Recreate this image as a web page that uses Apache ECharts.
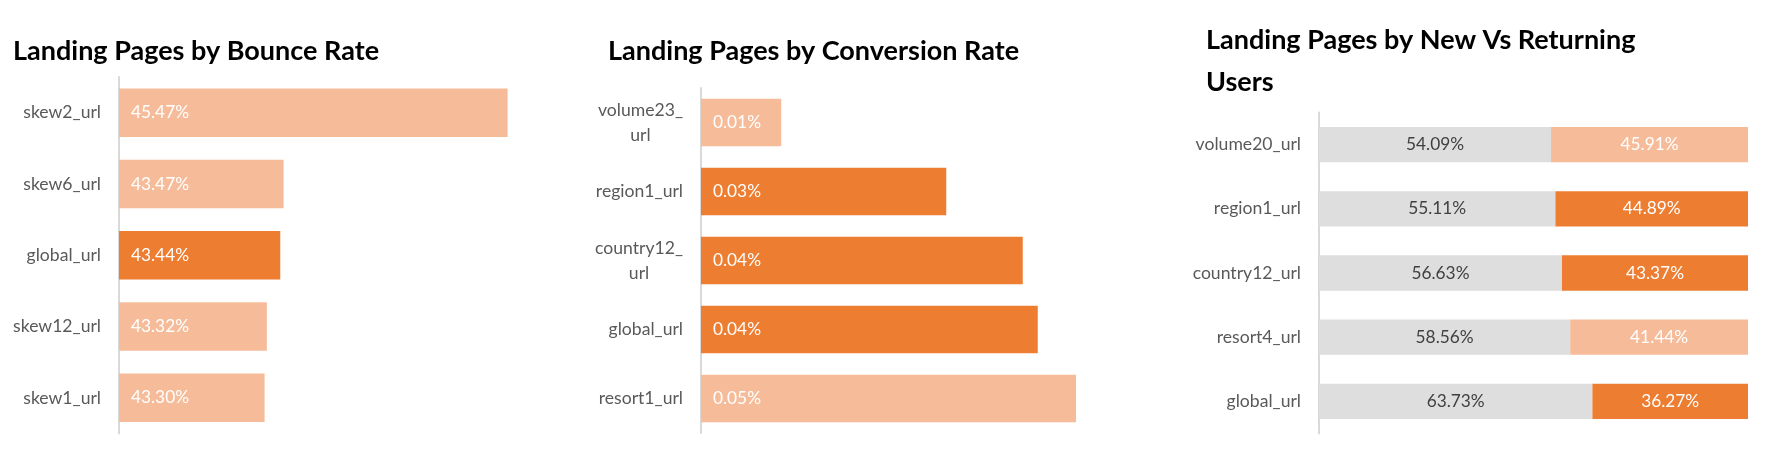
<!DOCTYPE html>
<html>
<head>
<meta charset="utf-8">
<script src="https://cdn.jsdelivr.net/npm/echarts@6/dist/echarts.min.js"></script>
<style>
html,body{margin:0;padding:0;background:#fff;}
#chart{width:1771px;height:457px;}
</style>
</head>
<body>
<div id="chart"></div>
<script>
// ---- Data ----
const bounceTitle = 'Landing Pages by Bounce Rate';
const bounceCategories = ['skew2_url', 'skew6_url', 'global_url', 'skew12_url', 'skew1_url'];
const bounceRates = [45.47, 43.47, 43.44, 43.32, 43.30];

const conversionTitle = 'Landing Pages by Conversion Rate';
const conversionCategories = ['volume23_url', 'region1_url', 'country12_url', 'global_url', 'resort1_url'];
const conversionRates = [0.0107, 0.0327, 0.0429, 0.0449, 0.0500];

const newRetTitle = 'Landing Pages by New Vs Returning\nUsers';
const newRetCategories = ['volume20_url', 'region1_url', 'country12_url', 'resort4_url', 'global_url'];
const newUsers = [54.09, 55.11, 56.63, 58.56, 63.73];
const returningUsers = [45.91, 44.89, 43.37, 41.44, 36.27];

const focusPages = ['global_url', 'region1_url', 'country12_url'];

// ---- Styles ----
const DARK = '#ED7D31';
const LIGHT = '#F6BC9A';
const GREY = '#DEDEDE';
const FONT = 'Lato';
const pickColor = name => focusPages.indexOf(name) >= 0 ? DARK : LIGHT;

const titleStyle = {fontFamily: FONT, fontWeight: 'bold', fontSize: 27, color: '#000', lineHeight: 33};
const titleStyle3 = Object.assign({}, titleStyle, {lineHeight: 42});

function catAxis(idx, cats, wrap) {
  return {
    type: 'category', gridIndex: idx, data: cats, inverse: true,
    axisLine: {show: true, lineStyle: {color: '#D9D9D9', width: 2}},
    axisTick: {show: false},
    axisLabel: {
      margin: 18, color: '#595959', fontFamily: FONT, fontSize: 17.6,
      formatter: wrap ? function (v) {
        if (v.length > 11) {
          const i = v.lastIndexOf('_') + 1;
          return '{w|' + v.slice(0, i) + '}\n{w|' + v.slice(i) + '}';
        }
        return '{w|' + v + '}';
      } : undefined,
      rich: wrap ? {w: {align: 'center', fontFamily: FONT, fontSize: 17.6, color: '#595959', lineHeight: 25}} : undefined
    }
  };
}
function valAxis(idx, min, max) {
  return {type: 'value', gridIndex: idx, min: min, max: max, show: false,
    splitLine: {show: false}};
}

const valueLabel = (pos, color, dist) => ({
  show: true, position: pos, distance: dist, color: color, fontFamily: FONT, fontSize: 17.3,
  formatter: p => p.value.toFixed(2) + '%'
});

const option = {
  animation: false,
  backgroundColor: '#fff',
  title: [
    {text: bounceTitle, left: 13, top: 35, padding: 0, textStyle: titleStyle},
    {text: conversionTitle, left: 608, top: 35, padding: 0, textStyle: titleStyle},
    {text: newRetTitle, left: 1206, top: 19, padding: 0, textStyle: titleStyle3}
  ],
  grid: [
    {left: 119, top: 77, width: 448, height: 356.5},
    {left: 701, top: 88, width: 450, height: 345},
    {left: 1319, top: 112.5, width: 429, height: 321}
  ],
  xAxis: [valAxis(0, 42, 46), valAxis(1, 0, 0.06), valAxis(2, 0, 100)],
  yAxis: [catAxis(0, bounceCategories, false), catAxis(1, conversionCategories, true), catAxis(2, newRetCategories, false)],
  series: [
    {
      type: 'bar', xAxisIndex: 0, yAxisIndex: 0, barCategoryGap: '32%',
      data: bounceRates.map((v, i) => ({value: v, itemStyle: {color: pickColor(bounceCategories[i])}})),
      label: valueLabel('insideLeft', '#fff', 12)
    },
    {
      type: 'bar', xAxisIndex: 1, yAxisIndex: 1, barCategoryGap: '31%',
      data: conversionRates.map((v, i) => ({value: v, itemStyle: {color: pickColor(conversionCategories[i])}})),
      label: valueLabel('insideLeft', '#fff', 12)
    },
    {
      type: 'bar', xAxisIndex: 2, yAxisIndex: 2, stack: 'nr', barCategoryGap: '45%',
      data: newUsers.map(v => ({value: v, itemStyle: {color: GREY}})),
      label: valueLabel('inside', '#404040', 5)
    },
    {
      type: 'bar', xAxisIndex: 2, yAxisIndex: 2, stack: 'nr',
      data: returningUsers.map((v, i) => ({value: v, itemStyle: {color: pickColor(newRetCategories[i])}})),
      label: valueLabel('inside', '#fff', 5)
    }
  ]
};
const chart = echarts.init(document.getElementById('chart'), null, {renderer: 'canvas'});
chart.setOption(option);
</script>
</body>
</html>
